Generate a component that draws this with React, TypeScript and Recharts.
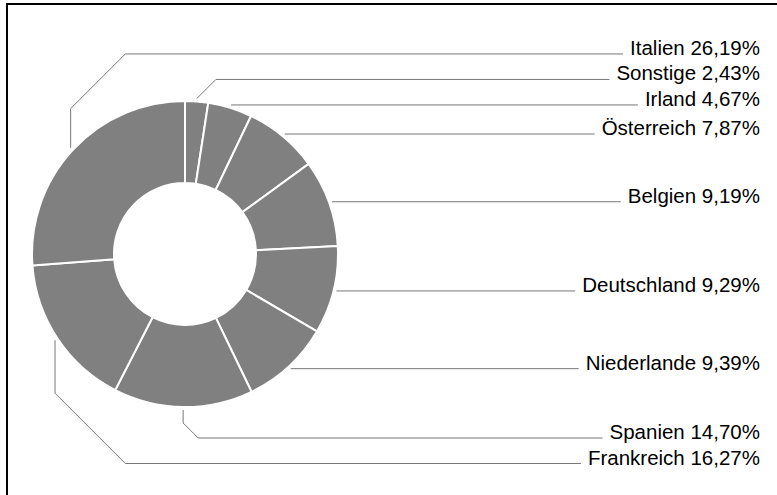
import React from 'react';
import { PieChart, Pie, Cell } from 'recharts';

const names = ['Sonstige', 'Irland', 'Österreich', 'Belgien', 'Deutschland', 'Niederlande', 'Spanien', 'Frankreich', 'Italien'];
const shares = [2.43, 4.67, 7.87, 9.19, 9.29, 9.39, 14.7, 16.27, 26.19];

const data = names.map((name, i) => ({ name, value: shares[i] }));

const W = 777;
const H = 495;
const CX = 185;
const CY = 254;
const OUTER = 153;
const INNER = 71;
const FONT = '"Liberation Sans", Arial, Helvetica, sans-serif';
const FONT_SIZE = 20.5;
const TEXT_RIGHT = 760;
const SPACING = 25.5;

const fmt = (v: number) => v.toFixed(2).replace('.', ',') + '%';
const labelText = (i: number) => `${names[i]} ${fmt(shares[i])}`;

let ctx: CanvasRenderingContext2D | null = null;
const measure = (t: string) => {
  if (!ctx) {
    ctx = document.createElement('canvas').getContext('2d');
  }
  if (!ctx) return t.length * 10;
  ctx.font = `${FONT_SIZE}px ${FONT}`;
  return ctx.measureText(t).width;
};

type LabelLayout = { ax: number; ay: number; ly: number; left: boolean };

const computeLayout = (cx: number, cy: number, r: number): LabelLayout[] => {
  const total = shares.reduce((a, b) => a + b, 0);
  const ar = r + 3;
  let acc = 0;
  const items = shares.map((v, i) => {
    const mid = ((acc + v / 2) / total) * 2 * Math.PI; // clockwise from top
    acc += v;
    const ax = cx + ar * Math.sin(mid);
    const ay = cy - ar * Math.cos(mid);
    const left = ax < cx;
    const desired = left ? (ay < cy ? cy - r - 31 : cy + r + 31) : ay;
    return { i, ax, ay, left, desired, ly: desired };
  });
  const top = items.filter((d) => d.desired < cy).sort((a, b) => a.desired - b.desired || a.i - b.i);
  const bottom = items.filter((d) => d.desired >= cy).sort((a, b) => a.desired - b.desired || a.i - b.i);
  for (let k = top.length - 2; k >= 0; k--) {
    top[k].ly = Math.min(top[k].desired, top[k + 1].ly - SPACING);
  }
  for (let k = 1; k < bottom.length; k++) {
    bottom[k].ly = Math.max(bottom[k].desired, bottom[k - 1].ly + SPACING);
  }
  const out: LabelLayout[] = [];
  items.forEach((d) => {
    out[d.i] = { ax: d.ax, ay: d.ay, ly: d.ly, left: d.left };
  });
  return out;
};

const renderLabel = (props: any) => {
  const { cx, cy, outerRadius, index } = props;
  const layout = computeLayout(cx, cy, outerRadius);
  const L = layout[index];
  const text = labelText(index);
  const tw = measure(text);
  const lineEnd = TEXT_RIGHT - tw - 7;
  let pts: [number, number][] = [];
  if (!L.left) {
    const dy = L.ly - L.ay;
    if (Math.abs(dy) < 0.5) {
      pts = [[L.ax, L.ly], [lineEnd, L.ly]];
    } else {
      pts = [[L.ax, L.ay], [L.ax + Math.abs(dy), L.ly], [lineEnd, L.ly]];
    }
  } else {
    const elbowX = Math.max(L.ax + 15, cx - 0.39 * outerRadius);
    const dx = elbowX - L.ax;
    const vy = L.ly < L.ay ? L.ly + dx : L.ly - dx;
    pts = [[L.ax, L.ay], [L.ax, vy], [elbowX, L.ly], [lineEnd, L.ly]];
  }
  return (
    <g key={`lbl-${index}`}>
      <polyline
        points={pts.map((p) => p.join(',')).join(' ')}
        fill="none"
        stroke="#777"
        strokeWidth={1}
      />
      <text
        x={TEXT_RIGHT}
        y={L.ly + 1}
        textAnchor="end"
        fontFamily={FONT}
        fontSize={FONT_SIZE}
        fill="#000"
      >
        {text}
      </text>
    </g>
  );
};

export default function App() {
  return (
    <div style={{ position: 'fixed', left: 0, top: 0, width: W, height: H, background: '#fff', overflow: 'hidden' }}>
      <div
        style={{
          position: 'absolute',
          left: 6,
          top: 3,
          width: W + 20,
          height: H + 20,
          borderLeft: '2px solid #000',
          borderTop: '2px solid #000',
        }}
      />
      <div style={{ position: 'absolute', left: 0, top: 0 }}>
        <PieChart width={W} height={H} margin={{ top: 0, right: 0, bottom: 0, left: 0 }}>
          <Pie
            data={data}
            dataKey="value"
            nameKey="name"
            cx={CX}
            cy={CY}
            innerRadius={INNER}
            outerRadius={OUTER}
            startAngle={90}
            endAngle={-270}
            fill="#808080"
            stroke="#ffffff"
            strokeWidth={2}
            label={renderLabel}
            labelLine={false}
            isAnimationActive={false}
          >
            {data.map((d) => (
              <Cell key={d.name} fill="#808080" />
            ))}
          </Pie>
        </PieChart>
      </div>
    </div>
  );
}
